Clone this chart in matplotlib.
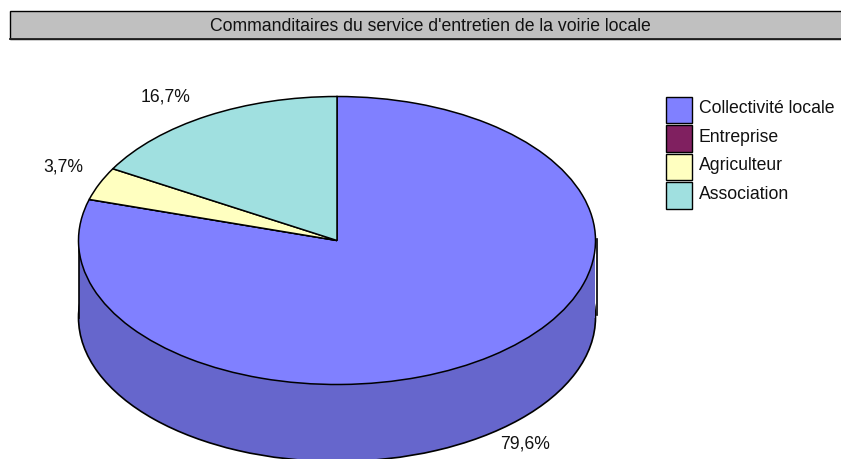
import matplotlib
matplotlib.use("Agg")
import matplotlib.pyplot as plt
from matplotlib.patches import Rectangle

plt.rcParams['font.family'] = ['Liberation Sans', 'DejaVu Sans']

title = "Commanditaires du service d'entretien de la voirie locale"
categories = ["Collectivité locale", "Entreprise", "Agriculteur", "Association"]
values = [79.6, 0.0, 3.7, 16.7]
value_labels = ["79,6%", "", "3,7%", "16,7%"]
colors = ["#8080ff", "#802060", "#ffffc0", "#a0e0e0"]
side_color = "#6666cc"

W, H = 841, 459
fs = 12.7
txt = "#111111"
fig = plt.figure(figsize=(W / 100, H / 100), dpi=100)

# whole figure in pixel coordinates for the title bar and legend
bg = fig.add_axes([0, 0, 1, 1])
bg.set_xlim(0, W)
bg.set_ylim(H, 0)
bg.axis('off')

bg.add_patch(Rectangle((10.5, 11), 840, 28, fc="#c0c0c0", ec="black", lw=1.0))
bg.plot([10.5, 841], [39, 39], color="#222222", lw=1.3)
bg.text(430, 26.5, title, ha='center', va='center', fontsize=fs, color=txt)

# pie axes: one data unit is the pie radius, stretched to an ellipse
cx, cy = 337, 240.5
rx, ry = 258.5, 144
depth = 77
span = 1.25
ax = fig.add_axes([(cx - span * rx) / W, 1 - (cy + span * ry) / H,
                   2 * span * rx / W, 2 * span * ry / H])
ax.patch.set_alpha(0)
depth_u = depth / ry

# side wall, lower ellipse first
ax.pie([1], colors=[side_color], center=(0, -depth_u), radius=1,
       wedgeprops={'edgecolor': 'black', 'linewidth': 1.2})
ax.add_patch(Rectangle((-1, -depth_u), 2, depth_u, fc=side_color, ec='none', zorder=2))
ax.plot([-1, -1], [0, -depth_u], color='black', lw=1.2, zorder=3)
ax.plot([1.006, 1.006], [0.01, -depth_u + 0.02], color='black', lw=1.2, zorder=3)

# top face
wedges, _ = ax.pie(values, colors=colors, startangle=90, counterclock=False, radius=1,
                   wedgeprops={'edgecolor': 'black', 'linewidth': 1.1, 'zorder': 4})
ax.set_aspect('auto')
ax.set_xlim(-span, span)
ax.set_ylim(-span, span)
ax.axis('off')

# value labels
bg.text(525, 444, value_labels[0], ha='center', va='center', fontsize=fs, color=txt)
bg.text(63, 166.5, value_labels[2], ha='center', va='center', fontsize=fs, color=txt)
bg.text(166, 97, value_labels[3], ha='center', va='center', fontsize=fs, color=txt)

# legend
for i, (name, col) in enumerate(zip(categories, colors)):
    y = 96.5 + i * 28.6
    bg.add_patch(Rectangle((666, y), 26, 26.5, fc=col, ec="black", lw=1.0))
    bg.text(699, y + 12.3, name, ha='left', va='center', fontsize=fs, color=txt)

fig.savefig("out.png", dpi=100)
